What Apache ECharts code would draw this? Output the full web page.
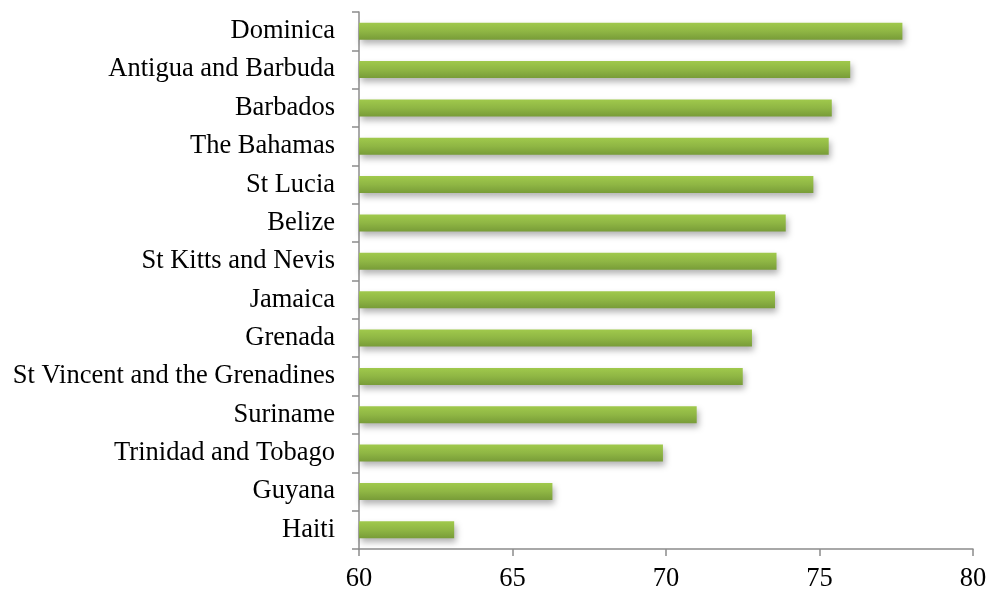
<!DOCTYPE html>
<html>
<head>
<meta charset="utf-8">
<script src="https://cdn.jsdelivr.net/npm/echarts@6/dist/echarts.min.js"></script>
<style>
  html, body { margin: 0; padding: 0; background: #ffffff; }
  #chart { width: 990px; height: 593px; }
</style>
</head>
<body>
<div id="chart"></div>
<script>
// Life expectancy by Caribbean country (years)
const countries = [
  'Dominica', 'Antigua and Barbuda', 'Barbados', 'The Bahamas', 'St Lucia',
  'Belize', 'St Kitts and Nevis', 'Jamaica', 'Grenada',
  'St Vincent and the Grenadines', 'Suriname', 'Trinidad and Tobago',
  'Guyana', 'Haiti'
];
const lifeExpectancy = [
  77.7, 76.0, 75.4, 75.3, 74.8,
  73.9, 73.6, 73.55, 72.8,
  72.5, 71.0, 69.9,
  66.3, 63.1
];
const xTicks = [60, 65, 70, 75, 80];

const axisGray = '#8c8c8c';
const fontFamily = '"Liberation Serif", "Times New Roman", serif';

const chart = echarts.init(document.getElementById('chart'));
chart.setOption({
  animation: false,
  backgroundColor: '#ffffff',
  grid: { left: 359, right: 17, top: 12, bottom: 43, containLabel: false },
  xAxis: {
    type: 'value',
    min: xTicks[0],
    max: xTicks[xTicks.length - 1],
    interval: xTicks[1] - xTicks[0],
    axisLine: { show: true, lineStyle: { color: axisGray, width: 1.5 } },
    axisTick: { show: true, length: 7, lineStyle: { color: axisGray, width: 1.5 } },
    splitLine: { show: false },
    axisLabel: { color: '#000', fontSize: 26.5, fontFamily: fontFamily, margin: 17 }
  },
  yAxis: {
    type: 'category',
    data: countries,
    inverse: true,
    axisLine: { show: true, lineStyle: { color: axisGray, width: 1.5 } },
    axisTick: { show: true, length: 7, lineStyle: { color: axisGray, width: 1.5 } },
    axisLabel: {
      color: '#000', fontSize: 26.5, fontFamily: fontFamily, margin: 24,
      padding: [5, 0, 0, 0]
    }
  },
  series: [{
    type: 'bar',
    data: lifeExpectancy,
    barWidth: 17,
    itemStyle: {
      color: new echarts.graphic.LinearGradient(0, 0, 0, 1, [
        { offset: 0, color: '#a0c94c' },
        { offset: 0.5, color: '#8fb644' },
        { offset: 1, color: '#789c38' }
      ]),
      shadowColor: 'rgba(0,0,0,0.3)',
      shadowBlur: 6,
      shadowOffsetX: 2,
      shadowOffsetY: 4
    }
  }]
});
</script>
</body>
</html>
